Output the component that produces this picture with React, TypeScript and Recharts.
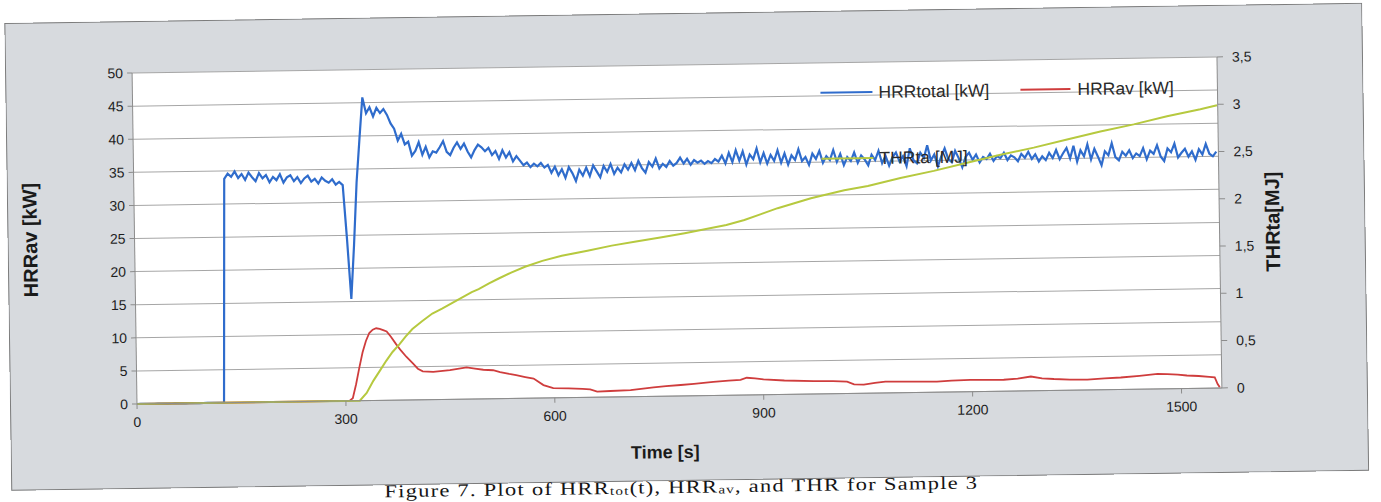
import React from 'react';
import { LineChart, Line, XAxis, YAxis, CartesianGrid, Label } from 'recharts';

// HRRtotal [kW], sampled every 5 s from t = 0 s
const hrrTotalStep = 5;
const hrrTotal = [
  0, 0, 0, 0, 0, 0, 0, 0, 0, 0,
  0, 0, 0, 0, 0, 0, 0, 0, 0, 0,
  0, 0, 0, 0, 0, 0, 33.8, 34.6, 34.1, 34.9,
  33.9, 34.5, 33.6, 34.7, 34.0, 33.4, 34.6, 33.8, 34.3, 33.2,
  34.0, 33.5, 34.4, 33.1, 33.9, 34.2, 33.3, 33.9, 33.0, 33.7,
  34.1, 33.2, 33.6, 32.9, 33.8, 33.3, 33.0, 33.5, 32.7, 33.1,
  32.6, 24.5, 15.4, 23.5, 33.0, 39.5, 45.8, 43.4, 44.3, 42.9,
  44.2, 43.4, 44.0, 43.1, 41.8, 41.0, 39.2, 40.2, 38.6, 39.0,
  36.9, 37.6, 38.9, 37.0, 38.2, 36.6, 37.5, 37.3, 38.1, 39.0,
  37.4, 36.9, 38.0, 38.8, 37.8, 38.6, 37.4, 36.5, 37.6, 38.4,
  38.0, 37.4, 37.9, 36.8, 37.4, 36.2, 37.5, 36.4, 37.2, 35.8,
  36.6, 35.9, 35.2, 35.6, 34.9, 35.4, 35.0, 35.5, 34.8, 35.2,
  34.0, 34.9, 33.6, 34.5, 33.2, 34.8, 33.9, 32.7, 34.4, 33.5,
  34.7, 33.4, 35.0, 34.1, 33.2, 34.9, 34.0, 35.2, 33.7, 34.6,
  33.9, 35.1, 34.3, 35.3, 34.2, 35.6, 34.5, 33.8, 35.4, 34.7,
  35.9, 34.4, 35.1, 34.6, 35.5, 34.8, 35.2, 36.0, 35.1, 35.8,
  34.9, 35.6, 35.2, 35.5, 35.0, 35.4, 35.1, 35.7, 35.3, 36.2,
  35.0, 36.6, 35.2, 37.0, 35.4, 36.8, 34.8, 36.3, 35.6, 37.2,
  35.1, 36.5, 34.9, 36.2, 35.3, 36.9, 35.0, 36.4, 34.7, 36.1,
  35.4, 37.0, 35.2, 35.8, 34.6, 36.3, 35.5, 36.7, 34.9, 35.9,
  35.3, 36.8, 35.0, 36.2, 34.5, 35.7, 35.1, 36.4, 34.8, 35.9,
  35.3, 34.4, 36.0, 35.2, 36.6, 34.7, 35.8, 34.3, 35.6, 36.3,
  34.9, 35.7, 34.2, 36.9, 35.1, 34.6, 36.2, 35.4, 37.3, 35.0,
  35.9, 34.1, 35.6, 36.8, 35.2, 34.7, 36.4, 35.3, 33.9, 35.5,
  36.1, 35.0, 35.8, 34.6, 35.4, 35.1, 35.9, 34.8, 35.5, 35.2,
  36.0, 34.9, 35.6, 35.3, 34.7, 35.8, 35.2, 36.1, 35.0, 35.7,
  34.6, 35.4, 34.8, 35.9, 35.1, 36.3, 34.9, 35.8, 36.6, 35.0,
  36.9, 34.5, 36.2, 35.3, 37.1, 34.8, 36.4, 35.2, 33.9, 36.0,
  35.4, 37.2, 35.1, 34.6, 35.9, 35.3, 36.1, 34.9, 35.6, 35.2,
  36.4, 34.7, 36.0, 35.5, 36.8, 35.1, 34.4, 36.3, 35.7, 37.0,
  34.9, 35.6, 36.2, 35.0, 35.8, 34.5, 36.1, 35.3, 36.9, 35.4,
  35.0, 35.7,
];

// HRRav [kW]
const hrrAvTimes = [
  0, 300, 305, 310, 315, 320, 325, 330, 335, 340, 345, 350, 355, 360, 366, 373, 380, 388, 397, 404,
  411, 426, 450, 474, 486, 498, 512, 522, 535, 545, 558, 570, 584, 598, 620, 640, 651, 661, 680, 709,
  742, 760, 781, 800, 828, 850, 867, 876, 888, 900, 930, 972, 1000, 1020, 1030, 1044, 1060, 1075, 1101, 1149,
  1170, 1197, 1220, 1245, 1265, 1284, 1300, 1317, 1340, 1365, 1390, 1413, 1440, 1466, 1480, 1495, 1508, 1525, 1540, 1548,
  1552, 1555,
];
const hrrAv = [
  0, 0, 0, 0.4, 2.5, 5.0, 7.3, 9.0, 10.2, 10.7, 10.9, 10.8, 10.6, 10.4, 9.6, 8.5, 7.5, 6.5, 5.5, 4.7,
  4.3, 4.2, 4.4, 4.8, 4.6, 4.4, 4.3, 4.0, 3.7, 3.5, 3.2, 2.95, 1.95, 1.45, 1.4, 1.3, 1.2, 0.85, 0.9, 1.0,
  1.35, 1.5, 1.65, 1.8, 2.05, 2.2, 2.3, 2.6, 2.5, 2.3, 2.1, 1.95, 1.9, 1.8, 1.35, 1.3, 1.55, 1.7, 1.65, 1.6,
  1.7, 1.78, 1.75, 1.72, 1.85, 2.15, 1.85, 1.72, 1.6, 1.55, 1.7, 1.8, 2.0, 2.25, 2.2, 2.1, 1.95, 1.85, 1.7, 1.6,
  0.6, 0.1,
];

// THRta [MJ]
const thrTimes = [
  0, 320, 330, 340, 350, 359, 368, 378, 387, 397, 411, 426, 440, 455, 470, 483, 493, 508, 522, 540,
  560, 585, 613, 650, 685, 720, 757, 790, 828, 850, 876, 900, 924, 948, 972, 996, 1020, 1054, 1101, 1149,
  1197, 1245, 1293, 1341, 1389, 1437, 1485, 1533, 1557,
];
const thr = [
  0, 0, 0.08, 0.21, 0.32, 0.42, 0.51, 0.59, 0.67, 0.75, 0.83, 0.91, 0.96, 1.02, 1.08, 1.13, 1.16, 1.22, 1.27, 1.33,
  1.39, 1.45, 1.5, 1.55, 1.6, 1.64, 1.68, 1.72, 1.77, 1.8, 1.85, 1.91, 1.97, 2.02, 2.07, 2.11, 2.15, 2.19, 2.27, 2.34,
  2.42, 2.5, 2.57, 2.65, 2.73, 2.8, 2.88, 2.95, 2.99,
];

const xTicks = [0, 300, 600, 900, 1200, 1500];
const leftTicks = [0, 5, 10, 15, 20, 25, 30, 35, 40, 45, 50];
const rightTicks = [0, 0.5, 1, 1.5, 2, 2.5, 3, 3.5];

const seriesNames = { total: 'HRRtotal [kW]', av: 'HRRav [kW]', thr: 'THRta [MJ]' };
const axisTitles = { x: 'Time [s]', left: 'HRRav [kW]', right: 'THRta[MJ]' };

const BLUE = '#2f6ccc';
const RED = '#cf3d3d';
const GREEN = '#b6c93f';
const FONT = '"Liberation Sans", Arial, sans-serif';

function buildRows() {
  const map = new Map<number, any>();
  const get = (t: number) => {
    let r = map.get(t);
    if (!r) {
      r = { t };
      map.set(t, r);
    }
    return r;
  };
  hrrTotal.forEach((v, i) => {
    get(i * hrrTotalStep).total = v;
  });
  hrrAvTimes.forEach((t, i) => {
    get(t).av = hrrAv[i];
  });
  thrTimes.forEach((t, i) => {
    get(t).thr = thr[i];
  });
  return Array.from(map.values()).sort((a, b) => a.t - b.t);
}

const rows = buildRows();

const XTitle = (props: any) => {
  const vb = props.viewBox || { x: 127, y: 383, width: 1085, height: 70 };
  const cx = vb.x + vb.width / 2 - 15;
  const cy = vb.y + 56;
  return (
    <text x={cx} y={cy} textAnchor="middle" dominantBaseline="central" fontFamily={FONT} fontWeight="bold" fontSize={18} fill="#1a1a1a">
      {axisTitles.x}
    </text>
  );
};

const LeftTitle = (props: any) => {
  const vb = props.viewBox || { x: 0, y: 52, width: 127, height: 331 };
  const cx = vb.x + 22.5;
  const cy = vb.y + vb.height / 2;
  return (
    <text x={cx} y={cy} transform={`rotate(-90 ${cx} ${cy})`} textAnchor="middle" dominantBaseline="central" fontFamily={FONT} fontWeight="bold" fontSize={20} fill="#1a1a1a">
      {axisTitles.left}
    </text>
  );
};

const RightTitle = (props: any) => {
  const vb = props.viewBox || { x: 1212, y: 52, width: 140, height: 331 };
  const cx = vb.x + 53;
  const cy = vb.y + vb.height / 2;
  return (
    <text x={cx} y={cy} transform={`rotate(-90 ${cx} ${cy})`} textAnchor="middle" dominantBaseline="central" fontFamily={FONT} fontWeight="bold" fontSize={20} fill="#1a1a1a">
      {axisTitles.right}
    </text>
  );
};

const legendText: React.CSSProperties = {
  position: 'absolute',
  fontFamily: FONT,
  fontSize: 17.5,
  lineHeight: '20px',
  color: '#2a2a2a',
  whiteSpace: 'nowrap',
};

function LegendOverlay() {
  const x0 = 815;
  const r1 = 82;
  const r2 = 148;
  const sample = (left: number, top: number, color: string, w: number) => (
    <div style={{ position: 'absolute', left, top: top - 1, width: w, height: 2, background: color }} />
  );
  return (
    <div style={{ position: 'absolute', left: 0, top: 0, width: '100%', height: '100%', pointerEvents: 'none' }}>
      {sample(x0, r1, BLUE, 52)}
      <div style={{ ...legendText, left: x0 + 58, top: r1 - 10 }}>{seriesNames.total}</div>
      {sample(x0 + 200, r1, RED, 50)}
      <div style={{ ...legendText, left: x0 + 257, top: r1 - 10 }}>{seriesNames.av}</div>
      {sample(x0, r2, GREEN, 52)}
      <div style={{ ...legendText, left: x0 + 58, top: r2 - 10 }}>{seriesNames.thr}</div>
    </div>
  );
}

const subStyle: React.CSSProperties = { fontSize: 12, position: 'relative', top: 1.5 };

export default function App() {
  return (
    <div style={{ position: 'absolute', left: 0, top: 0, width: 1381, height: 502, overflow: 'hidden', background: '#ffffff' }}>
      <div
        style={{
          position: 'absolute',
          left: 0,
          top: 0,
          width: 1381,
          height: 502,
          transform: 'rotate(-0.85deg)',
          transformOrigin: '137px 404px',
        }}
      >
        <div
          style={{
            position: 'absolute',
            left: 10,
            top: 21,
            width: 1358,
            height: 468,
            background: '#d7dade',
            boxShadow: 'inset 0 0 0 1px #7c7c7c',
          }}
        >
          <LineChart width={1358} height={468} data={rows} margin={{ top: 52, right: 6, bottom: 15, left: 0 }}>
            <CartesianGrid yAxisId="left" horizontal vertical={false} stroke="#a6a6a6" fill="#ffffff" fillOpacity={1} />
            <XAxis
              dataKey="t"
              type="number"
              domain={[0, 1558]}
              ticks={xTicks}
              interval={0}
              allowDataOverflow
              tickSize={5}
              tickMargin={8}
              height={70}
              stroke="#8c8c8c"
              tick={{ fill: '#1e1e1e', fontSize: 14, fontFamily: FONT }}
            >
              <Label content={<XTitle />} />
            </XAxis>
            <YAxis
              yAxisId="left"
              domain={[0, 50]}
              ticks={leftTicks}
              interval={0}
              width={127}
              tickSize={5}
              tickMargin={4}
              stroke="#8c8c8c"
              tick={{ fill: '#1e1e1e', fontSize: 14, fontFamily: FONT }}
            >
              <Label content={<LeftTitle />} />
            </YAxis>
            <YAxis
              yAxisId="right"
              orientation="right"
              domain={[0, 3.5]}
              ticks={rightTicks}
              interval={0}
              width={140}
              tickSize={6}
              tickMargin={9}
              stroke="#8c8c8c"
              tick={{ fill: '#1e1e1e', fontSize: 14, fontFamily: FONT }}
              tickFormatter={(v: number) => String(v).replace('.', ',')}
            >
              <Label content={<RightTitle />} />
            </YAxis>
            <Line yAxisId="left" type="linear" dataKey="total" name={seriesNames.total} stroke={BLUE} strokeWidth={2.2} dot={false} activeDot={false} connectNulls isAnimationActive={false} />
            <Line yAxisId="left" type="linear" dataKey="av" name={seriesNames.av} stroke={RED} strokeWidth={1.8} dot={false} activeDot={false} connectNulls isAnimationActive={false} />
            <Line yAxisId="right" type="linear" dataKey="thr" name={seriesNames.thr} stroke={GREEN} strokeWidth={2} dot={false} activeDot={false} connectNulls isAnimationActive={false} />
          </LineChart>
          <LegendOverlay />
        </div>
        <div
          style={{
            position: 'absolute',
            left: 0,
            top: 484.5,
            width: 1360,
            textAlign: 'center',
            fontFamily: '"Liberation Serif", "Times New Roman", serif',
            fontSize: 18,
            lineHeight: '20px',
            letterSpacing: 1,
            color: '#151515',
            whiteSpace: 'nowrap',
            transform: 'scaleX(1.25)',
            transformOrigin: '680px 10px',
          }}
        >
          Figure 7. Plot of HRR<span style={subStyle}>tot</span>(t), HRR<span style={subStyle}>av</span>, and THR for Sample 3
        </div>
      </div>
    </div>
  );
}
